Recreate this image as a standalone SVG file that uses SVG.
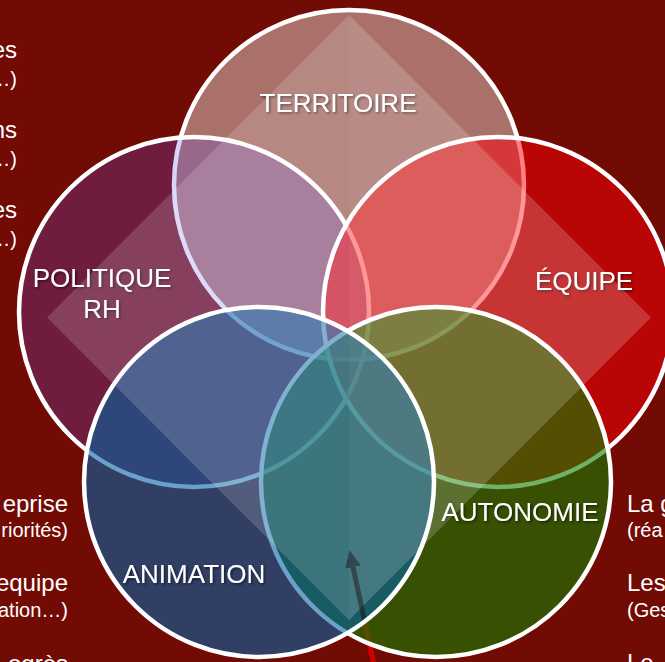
<svg xmlns="http://www.w3.org/2000/svg" width="665" height="662" viewBox="0 0 665 662">
  <style>
    .ring { stroke: #ffffff; stroke-width: 4.5; }
    .lbl { font-family: "Liberation Sans", Arial, sans-serif; font-size: 26px; fill: #ffffff; text-anchor: middle; filter: url(#shadow); }
    .side { font-family: "Liberation Sans", Arial, sans-serif; fill: #ffffff; }
    .big { font-size: 24px; }
    .small { font-size: 20px; }
    .endA { text-anchor: end; }
    .shaft { stroke-width: 5; }
  </style>
  <defs>
    <filter id="shadow" x="-10%" y="-30%" width="130%" height="170%">
      <feDropShadow dx="1.5" dy="1.5" stdDeviation="1" flood-color="#000000" flood-opacity="0.55"/>
    </filter>
    <marker id="head" markerUnits="userSpaceOnUse" markerWidth="17" markerHeight="16" refX="1" refY="8" orient="auto">
      <path d="M0,0 L17,8 L0,16 z" fill="#D00000"/>
    </marker>
    <marker id="headShade" markerUnits="userSpaceOnUse" markerWidth="17" markerHeight="16" refX="1" refY="8" orient="auto">
      <path d="M0,0 L17,8 L0,16 z" fill="#000000"/>
    </marker>
    <!-- inside of the ANIMATION circle, where the arrow crosses the lens -->
    <clipPath id="lensClip">
      <circle cx="259" cy="482" r="173"/>
    </clipPath>
  </defs>

  <!-- background -->
  <rect x="0" y="0" width="665" height="662" fill="#730B05"/>

  <!-- connectors (run beneath the circles) -->
  <g id="connectors">
    <line class="shaft" x1="375.5" y1="672" x2="352.8" y2="566" stroke="#D00000" marker-end="url(#head)"/>
  </g>

  <!-- Venn circles, drawn in stacking order -->
  <g id="territoire">
    <circle class="ring" cx="349" cy="185" r="175" fill="rgb(225,215,210)" fill-opacity="0.5"/>
    <text class="lbl" x="338" y="112">TERRITOIRE</text>
  </g>
  <g id="politique-rh">
    <circle class="ring" cx="194" cy="312" r="175" fill="rgb(100,78,235)" fill-opacity="0.25"/>
    <text class="lbl" x="102" y="287">POLITIQUE</text>
    <text class="lbl" x="102" y="318">RH</text>
  </g>
  <g id="equipe">
    <circle class="ring" cx="498" cy="312" r="175" fill="rgb(255,0,5)" fill-opacity="0.5"/>
    <text class="lbl" x="584" y="290">ÉQUIPE</text>
  </g>
  <g id="autonomie">
    <circle class="ring" cx="436" cy="482" r="175" fill="rgb(15,126,0)" fill-opacity="0.6"/>
    <text class="lbl" x="520" y="521">AUTONOMIE</text>
  </g>
  <g id="animation">
    <circle class="ring" cx="259" cy="482" r="175" fill="rgb(5,98,165)" fill-opacity="0.6"/>
    <text class="lbl" x="194" y="583">ANIMATION</text>
  </g>

  <!-- light diamond overlay, split in two halves -->
  <g id="diamond">
    <polygon points="349,15 47,317.5 349,620" fill="#ffffff" fill-opacity="0.16"/>
    <polygon points="349,15 651,317.5 349,620" fill="#ffffff" fill-opacity="0.19"/>
  </g>

  <!-- darker tone of the arrow where it shows through the lens -->
  <g id="connector-shade" clip-path="url(#lensClip)" opacity="0.4">
    <line class="shaft" x1="375.5" y1="672" x2="352.8" y2="566" stroke="#000000" marker-end="url(#headShade)"/>
  </g>

  <!-- side captions running off the edges -->
  <g id="captions-left-top" class="side">
    <text class="big endA" x="17" y="58">es</text>
    <text class="small endA" x="17" y="86">…)</text>
    <text class="big endA" x="17" y="138">ns</text>
    <text class="small endA" x="17" y="166">…)</text>
    <text class="big endA" x="17" y="218">es</text>
    <text class="small endA" x="17" y="246">…)</text>
  </g>
  <g id="captions-left-bottom" class="side">
    <text class="big endA" x="68" y="512">eprise</text>
    <text class="small endA" x="68" y="537">riorités)</text>
    <text class="big endA" x="68" y="591">equipe</text>
    <text class="small endA" x="68" y="617">ation…)</text>
    <text class="big endA" x="68" y="672">ogrès</text>
  </g>
  <g id="captions-right" class="side">
    <text class="big" x="627" y="512">La g</text>
    <text class="small" x="627" y="537">(réa</text>
    <text class="big" x="627" y="591">Les</text>
    <text class="small" x="627" y="617">(Ges</text>
    <text class="big" x="627" y="671">Le</text>
  </g>
</svg>
